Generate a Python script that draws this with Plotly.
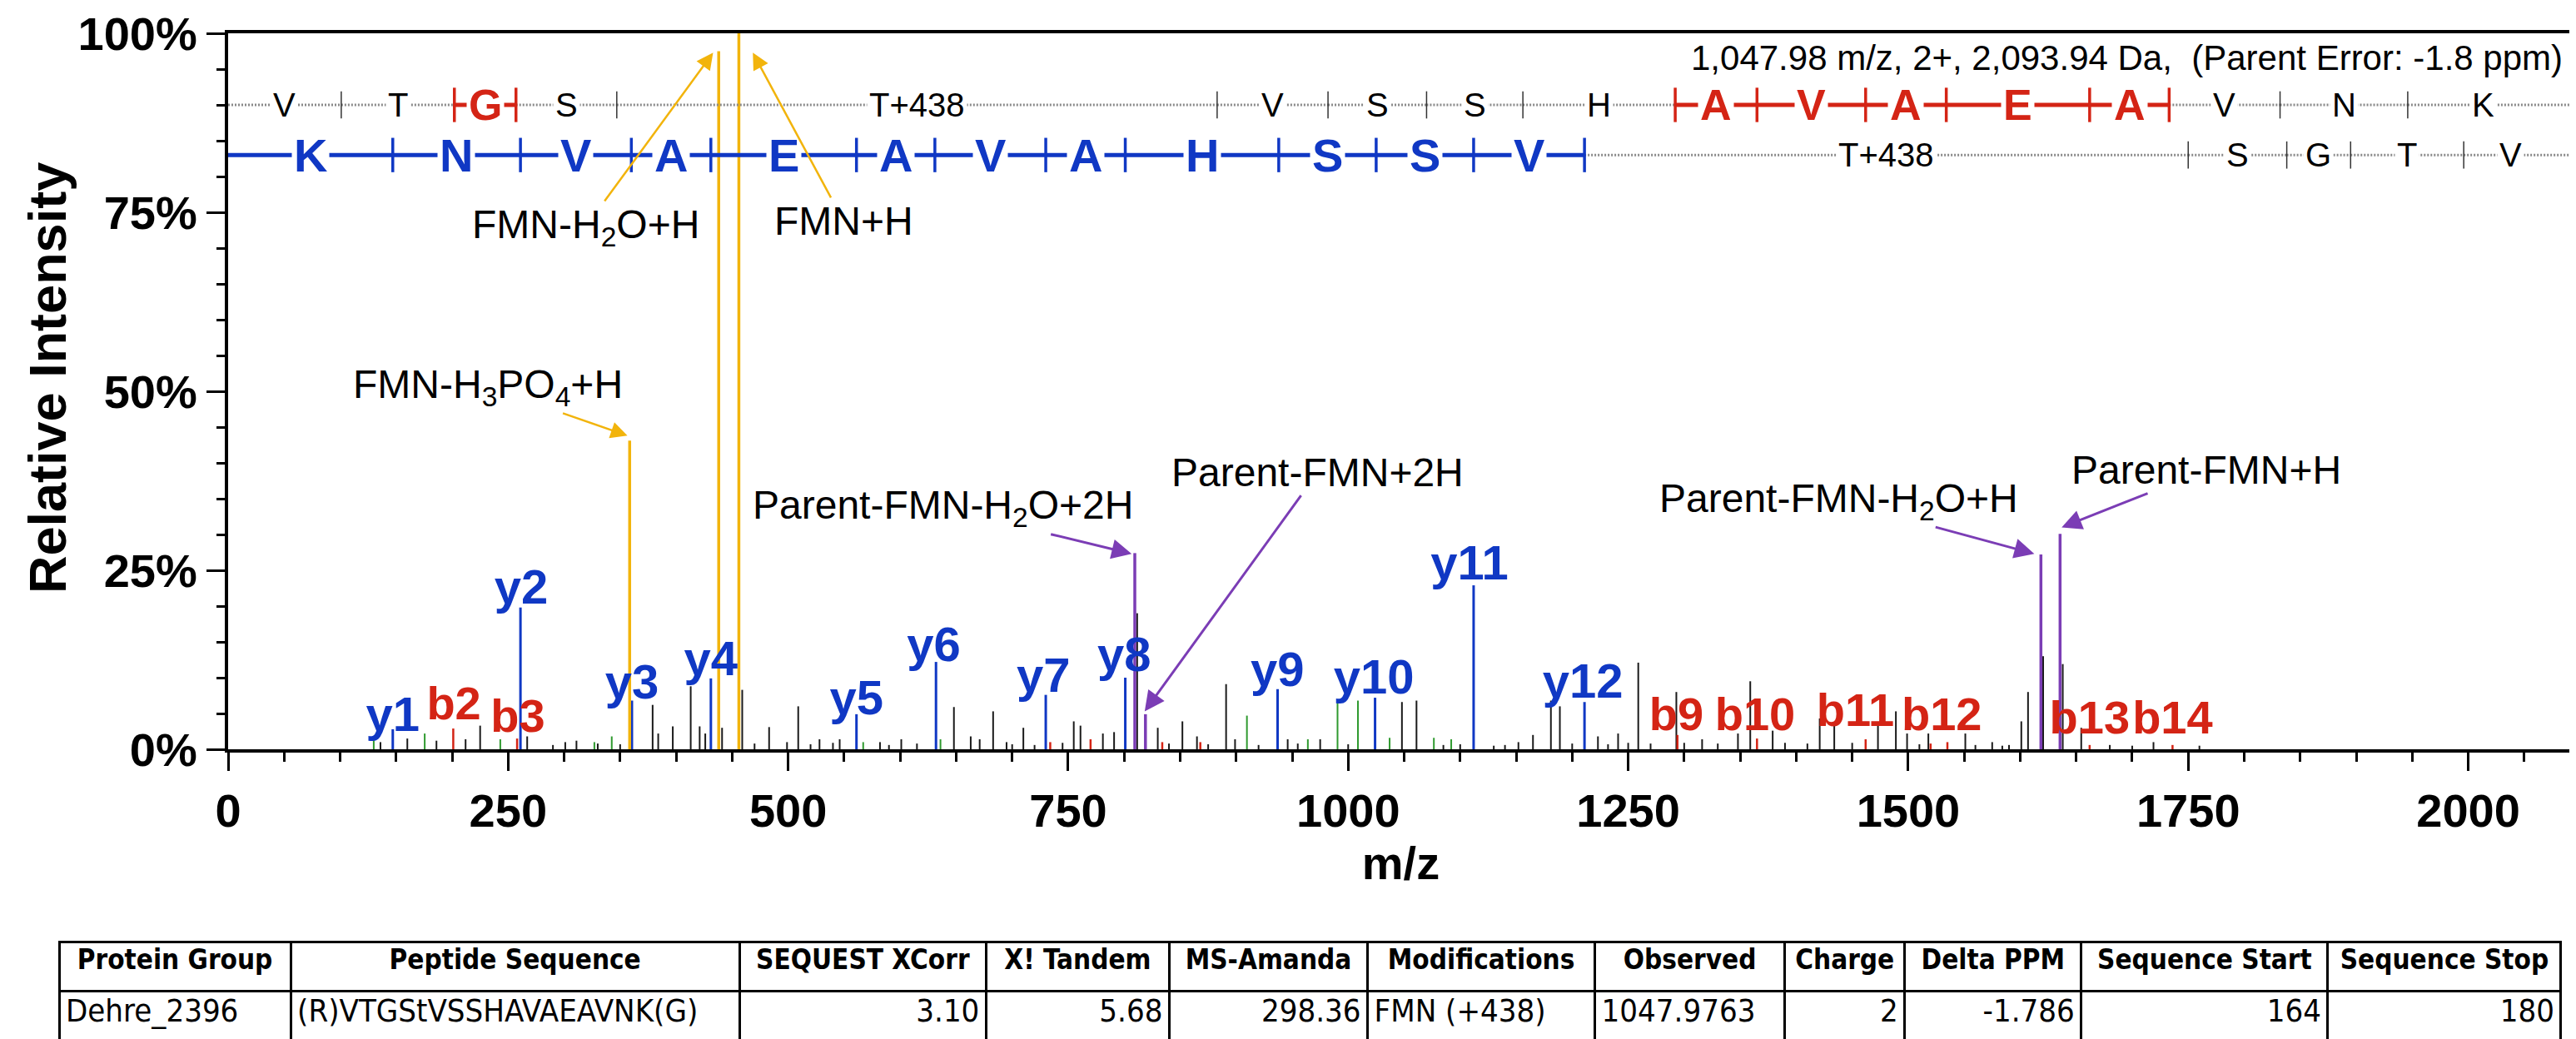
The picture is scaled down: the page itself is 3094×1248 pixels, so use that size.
import plotly.graph_objects as go

# ---------------- spectrum data (m/z, relative intensity %) ----------------
black_mz = [136, 160, 186, 212, 225, 267, 290, 301, 311, 330, 350, 379, 384, 397, 413, 421, 426,
            441, 459, 470, 483, 499, 509, 520, 528, 540, 546, 582, 590, 601, 615, 648, 663, 671,
            683, 695, 700, 710, 720, 745, 755, 761, 781, 791, 811.6, 830, 840, 852, 865, 875, 891,
            899, 920, 946, 955, 975, 1000, 1048, 1061, 1085, 1100, 1130, 1140, 1152, 1165, 1181,
            1189, 1200, 1223, 1232, 1241, 1250, 1259, 1270, 1293, 1300, 1316, 1330, 1348, 1359,
            1379, 1390, 1410, 1421, 1434, 1450, 1473, 1489, 1499, 1510, 1518, 1551, 1560, 1575,
            1584, 1590, 1601, 1607, 1620.5, 1638, 1654.5, 1680, 1700, 1719, 1760]
black_int = [1.0, 1.5, 1.2, 1.4, 3.3, 1.8, 0.6, 1.0, 1.2, 0.8, 0.7, 6.2, 2.2, 3.2, 8.8, 3.2, 2.2,
             3.0, 8.3, 0.8, 3.1, 1.0, 6.0, 0.7, 1.4, 0.9, 1.4, 1.0, 0.6, 1.4, 0.8, 5.9, 1.8, 1.4,
             5.3, 1.0, 0.7, 3.0, 0.6, 0.9, 3.9, 3.3, 2.2, 2.4, 19.0, 3.0, 0.8, 3.9, 1.8, 0.7, 9.1,
             1.4, 0.6, 1.4, 0.8, 1.4, 0.7, 6.6, 6.8, 0.6, 0.7, 0.5, 0.6, 1.0, 2.0, 6.8,
             6.0, 0.8, 1.8, 0.7, 2.2, 0.9, 12.1, 0.8, 8.0, 0.9, 1.4, 0.8, 2.2, 9.5,
             2.6, 0.9, 0.8, 4.3, 3.3, 0.9, 3.3, 5.3, 2.2, 0.7, 2.2, 2.2, 0.6, 1.0,
             0.5, 0.6, 3.9, 8.0, 13.0, 11.9, 3.0, 0.6, 0.5, 1.0, 0.5]
green_mz = [130, 175.5, 243, 327, 342.5, 567, 636, 909.6, 964, 990.5, 1008.7, 1037, 1076.5, 1092]
green_int = [1.8, 2.2, 1.4, 1.0, 1.8, 1.0, 1.4, 4.7, 1.4, 6.8, 6.8, 1.6, 1.6, 1.4]
red_noise_mz = [734, 770, 834, 868, 1520]
red_noise_int = [1.0, 1.4, 1.0, 1.0, 0.8]

# assigned ions
y_names = ["y1", "y2", "y3", "y4", "y5", "y6", "y7", "y8", "y9", "y10", "y11", "y12"]
y_mz = [147, 261, 360.5, 431, 561, 632, 730, 801, 937, 1024, 1112, 1211]
y_int = [2.8, 19.8, 6.8, 9.9, 4.9, 12.2, 7.6, 10.0, 8.4, 7.2, 22.9, 6.6]
y_lab_mz = [147, 261.6, 360.6, 431, 561, 630, 728, 800, 936.8, 1023, 1108.3, 1209.5]
y_lab_int = [4.3, 22.0, 8.75, 12.05, 6.6, 14.0, 9.7, 12.6, 10.5, 9.5, 25.4, 8.95]

b_names = ["b2", "b3", "b9", "b10", "b11", "b12", "b13", "b14"]
b_mz = [201, 258, 1294, 1365, 1462, 1535, 1662, 1736]
b_int = [2.9, 1.5, 2.0, 1.5, 1.4, 1.0, 0.6, 0.6]
b_lab_mz = [201.5, 258.7, 1293, 1363.3, 1452.8, 1530, 1662, 1736]
b_lab_int = [5.8, 4.1, 4.3, 4.3, 4.9, 4.3, 3.8, 3.8]

fmn_mz = [358.5, 438, 456]
fmn_int = [43.1, 97.5, 100.0]
parent_mz = [809.5, 819, 1618.5, 1635.6]
parent_int = [27.4, 4.9, 27.2, 30.1]

# annotated neutral-loss ions: label, label position, arrow tip
fmn_labels = ["FMN-H<sub>3</sub>PO<sub>4</sub>+H", "FMN-H<sub>2</sub>O+H", "FMN+H"]
fmn_lab_mz = [231.6, 319, 549.4]
fmn_lab_int = [50.6, 72.9, 73.8]
fmn_tip_mz = [356.5, 433, 468.5]
fmn_tip_int = [43.8, 97.3, 97.3]

parent_labels = ["Parent-FMN-H<sub>2</sub>O+2H", "Parent-FMN+2H",
                 "Parent-FMN-H<sub>2</sub>O+H", "Parent-FMN+H"]
parent_lab_mz = [638, 973, 1438, 1766.5]
parent_lab_int = [33.7, 38.7, 34.7, 39.0]
parent_tip_mz = [806.7, 818.3, 1612.6, 1637]
parent_tip_int = [27.3, 5.3, 27.3, 31.0]

# sequence ladders
b_residues = ["V", "T", "G", "S", "T+438", "V", "S", "S", "H", "A", "V", "A", "E", "A", "V", "N", "K"]
b_cuts = [101, 202, 257, 347, 883, 982, 1070, 1156, 1292, 1365, 1462, 1534, 1662, 1733, 1832, 1946]
b_seen = [False, True, True, False, False, False, False, False, True, True, True, True, True, True, False, False]
y_residues = ["K", "N", "V", "A", "E", "A", "V", "A", "H", "S", "S", "V", "T+438", "S", "G", "T", "V"]
y_cuts = [147, 261, 360, 431, 561, 631, 730, 801, 938, 1025, 1112, 1211, 1750, 1838, 1895, 1996]
y_seen = [True] * 12 + [False] * 4
peptide_end_mz = 2080

precursor_text = "1,047.98 m/z, 2+, 2,093.94 Da,  (Parent Error: -1.8 ppm)"

# table
table_header = ["Protein Group", "Peptide Sequence", "SEQUEST XCorr", "X! Tandem", "MS-Amanda",
                "Modifications", "Observed", "Charge", "Delta PPM", "Sequence Start", "Sequence Stop"]
table_row = ["Dehre_2396", "(R)VTGStVSSHAVAEAVNK(G)", "3.10", "5.68", "298.36", "FMN (+438)",
             "1047.9763", "2", "-1.786", "164", "180"]

BLUE = "#1038C4"
RED = "#D42415"
ORANGE = "#F2B40C"
PURPLE = "#7B3DB5"
GREEN = "#2F9A2F"
FONT = "Liberation Sans, Arial, sans-serif"
TFONT = "DejaVu Sans Condensed, Liberation Sans, sans-serif"
XMAX = 2094


def sticks(mz, inten):
    xs, ys = [], []
    for m, v in zip(mz, inten):
        xs += [m, m, None]
        ys += [0, v, None]
    return xs, ys


fig = go.Figure()

for mz, inten, col, w in [(black_mz, black_int, "#1a1a1a", 2),
                          (green_mz, green_int, GREEN, 2),
                          (red_noise_mz + b_mz, red_noise_int + b_int, RED, 2.5),
                          (y_mz, y_int, BLUE, 3),
                          (parent_mz, parent_int, PURPLE, 3.5),
                          (fmn_mz, fmn_int, ORANGE, 3.5)]:
    xs, ys = sticks(mz, inten)
    fig.add_trace(go.Scatter(x=xs, y=ys, mode="lines", line=dict(color=col, width=w),
                             hoverinfo="skip"))

# ion labels
fig.add_trace(go.Scatter(x=y_lab_mz, y=y_lab_int, text=y_names, mode="text",
                         textfont=dict(family=FONT, size=58, color=BLUE, weight="bold")))
fig.add_trace(go.Scatter(x=b_lab_mz, y=b_lab_int, text=b_names, mode="text",
                         textfont=dict(family=FONT, size=56, color=RED, weight="bold")))

annotations = []


def seq_row(residues, cuts, seen, yrow, color, big):
    bounds = [0] + cuts + [XMAX]
    flags = [True] + seen + [False]
    solid_x, solid_y, dot_x, dot_y = [], [], [], []
    for k in range(len(bounds) - 1):
        if flags[k] and flags[k + 1]:
            solid_x += [bounds[k], bounds[k + 1], None]
            solid_y += [yrow, yrow, None]
        else:
            dot_x += [bounds[k], bounds[k + 1], None]
            dot_y += [yrow, yrow, None]
    fig.add_trace(go.Scatter(x=dot_x, y=dot_y, mode="lines",
                             line=dict(color="#8a8a8a", width=3, dash="2px,2px"), hoverinfo="skip"))
    fig.add_trace(go.Scatter(x=solid_x, y=solid_y, mode="lines",
                             line=dict(color=color, width=5), hoverinfo="skip"))
    # cut marks
    on_x, on_y, off_x, off_y = [], [], [], []
    for c, s in zip(cuts, seen):
        if s:
            on_x += [c, c, None]
            on_y += [yrow - 2.4, yrow + 2.4, None]
        else:
            off_x += [c, c, None]
            off_y += [yrow - 1.9, yrow + 1.9, None]
    fig.add_trace(go.Scatter(x=off_x, y=off_y, mode="lines",
                             line=dict(color="#333333", width=1.5), hoverinfo="skip"))
    fig.add_trace(go.Scatter(x=on_x, y=on_y, mode="lines",
                             line=dict(color=color, width=3.5), hoverinfo="skip"))
    # residue letters
    ends = [0] + cuts + [peptide_end_mz]
    for k, r in enumerate(residues):
        hit = flags[k] and flags[k + 1]
        annotations.append(dict(
            x=(ends[k] + ends[k + 1]) / 2, y=yrow, xref="x", yref="y", text=r, showarrow=False,
            bgcolor="white", borderpad=2,
            font=dict(family=FONT, size=big if hit else 40,
                      color=color if hit else "black", weight="bold" if hit else "normal")))


seq_row(b_residues, b_cuts, b_seen, 90.0, RED, 52)
seq_row(y_residues, y_cuts, y_seen, 83.0, BLUE, 56)

# FMN / parent labels with arrows pointing at their peaks
for txt, lx, ly, tx, ty, col, aw in (
        [(t, a, b, c, d, ORANGE, 2.5) for t, a, b, c, d in
         zip(fmn_labels, fmn_lab_mz, fmn_lab_int, fmn_tip_mz, fmn_tip_int)] +
        [(t, a, b, c, d, PURPLE, 3) for t, a, b, c, d in
         zip(parent_labels, parent_lab_mz, parent_lab_int, parent_tip_mz, parent_tip_int)]):
    annotations.append(dict(x=tx, y=ty, ax=lx, ay=ly, xref="x", yref="y", axref="x", ayref="y",
                            text=txt, showarrow=True, arrowhead=2, arrowsize=1.6,
                            arrowwidth=aw, arrowcolor=col, standoff=0,
                            font=dict(family=FONT, size=48, color="black")))

annotations.append(dict(x=0.996, y=96.6, xref="x domain", yref="y", xanchor="right",
                        text=precursor_text, showarrow=False,
                        font=dict(family=FONT, size=42, color="black")))

# y-axis title, placed as in the original figure
annotations.append(dict(x=49 / 3094, y=1 - 446 / 1248, xref="paper", yref="paper",
                        xanchor="center", yanchor="middle",
                        text="Relative Intensity", textangle=-90, showarrow=False,
                        font=dict(family=FONT, size=63, color="black", weight="bold")))

# results table
fig.add_trace(go.Table(
    domain=dict(x=[63 / 3094, 3068 / 3094], y=[0, 1 - 1123 / 1248]),
    columnwidth=[278, 539, 296, 220, 238, 273, 228, 144, 212, 296, 280],
    header=dict(values=table_header, align="center", height=59, fill_color="white",
                line=dict(color="black", width=3),
                font=dict(family=TFONT, size=33, color="black", weight="bold")),
    cells=dict(values=[[v] for v in table_row], height=60, fill_color="white",
               align=["left", "left", "right", "right", "right", "left", "left",
                      "right", "right", "right", "right"],
               line=dict(color="black", width=3),
               font=dict(family=TFONT, size=38, color="black")),
))

axis_common = dict(showline=True, linewidth=4, linecolor="black", mirror=True, showgrid=False,
                   zeroline=False, ticks="outside", ticklen=22, tickwidth=3, tickcolor="black",
                   automargin=False,
                   tickfont=dict(family=FONT, size=56, color="black", weight="bold"))

fig.update_layout(
    width=3094, height=1248,
    margin=dict(l=0, r=0, t=0, b=0),
    paper_bgcolor="white", plot_bgcolor="white",
    showlegend=False,
    annotations=annotations,
    xaxis=dict(axis_common, domain=[266 / 3094, 3083 / 3094], range=[0, XMAX],
               tick0=0, dtick=250, tickformat="d",
               minor=dict(dtick=50, ticklen=11, tickwidth=3, ticks="outside", tickcolor="black"),
               title=dict(text="m/z", standoff=8,
                          font=dict(family=FONT, size=56, color="black", weight="bold"))),
    yaxis=dict(axis_common, domain=[1 - 892 / 1248, 1 - 32 / 1248], range=[0, 100],
               tick0=0, dtick=25, ticksuffix="%",
               minor=dict(dtick=5, ticklen=10, tickwidth=3, ticks="outside", tickcolor="black")),
)

fig.write_html("out.html")
